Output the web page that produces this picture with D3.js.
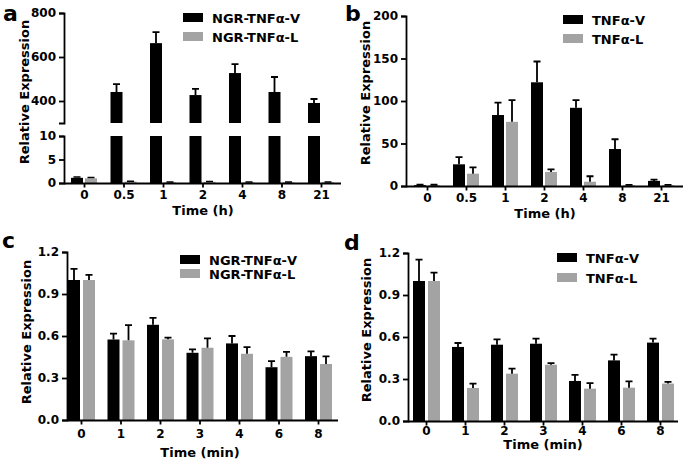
<!DOCTYPE html>
<html>
<head>
<meta charset="utf-8">
<script src="https://cdn.jsdelivr.net/npm/d3@7"></script>
<style>
  body { margin: 0; background: #fff; }
  text { font-family: "DejaVu Sans", sans-serif; font-weight: bold; fill: #000; }
</style>
</head>
<body>
<svg width="685" height="463"></svg>
<script>
// categories
const hours = ["0", "0.5", "1", "2", "4", "8", "21"];
const minutes = ["0", "1", "2", "3", "4", "6", "8"];

// panel a (broken axis), error = upper whisker length
const aV = [1.1, 441, 663, 427, 527, 441, 391];
const aVErr = [0.2, 36, 50, 28, 41, 68, 18];
const aL = [1.0, 0.3, 0.15, 0.25, 0.15, 0.15, 0.15];
const aLErr = [0.15, 0.05, 0.05, 0.05, 0.05, 0.05, 0.05];

// panel b
const bV = [1, 25.5, 83.5, 122, 92, 43.5, 6];
const bVErr = [0.5, 8.5, 14.5, 24.5, 9, 11.5, 1.5];
const bL = [1, 14.5, 75.5, 16.5, 5, 1, 1];
const bLErr = [0.5, 7.5, 25.5, 3, 6.5, 0.3, 0.3];

// panel c
const cV = [1.0, 0.575, 0.68, 0.48, 0.547, 0.377, 0.456];
const cVErr = [0.08, 0.042, 0.05, 0.024, 0.053, 0.043, 0.034];
const cL = [1.0, 0.569, 0.576, 0.516, 0.473, 0.451, 0.40];
const cLErr = [0.037, 0.108, 0.012, 0.067, 0.047, 0.036, 0.054];

// panel d
const dV = [1.0, 0.529, 0.545, 0.552, 0.286, 0.433, 0.56];
const dVErr = [0.152, 0.028, 0.038, 0.036, 0.043, 0.041, 0.028];
const dL = [1.0, 0.236, 0.338, 0.402, 0.231, 0.238, 0.267];
const dLErr = [0.06, 0.031, 0.036, 0.012, 0.04, 0.045, 0.012];

const black = "#000", grey = "#a3a3a3";
const svg = d3.select("svg");

function xAxisPart(g, x, y0, x0, x1, pad, title, tx, ty) {
    g.append("g")
        .attr("transform", "translate(0," + y0 + ")")
        .call(d3.axisBottom(x).tickSize(4).tickPadding(pad).tickSizeOuter(0))
        .call(a => a.select(".domain").remove())
        .call(a => a.selectAll("line").attr("stroke-width", 1.8))
        .call(a => a.selectAll("text").style("font-size", "12px"));
    g.append("line")
        .attr("x1", x0).attr("x2", x1).attr("y1", y0).attr("y2", y0)
        .attr("stroke", "#000").attr("stroke-width", 1.8);
    g.append("text")
        .attr("x", tx).attr("y", ty)
        .attr("text-anchor", "middle")
        .style("font-size", "13px")
        .text(title);
}

function yAxisPart(g, y, xPos, ticks, fmt) {
    g.append("g")
        .attr("transform", "translate(" + xPos + ",0)")
        .call(d3.axisLeft(y).tickValues(ticks).tickFormat(fmt).tickSize(5).tickPadding(3).tickSizeOuter(5))
        .call(a => a.select(".domain").attr("stroke-width", 1.8))
        .call(a => a.selectAll("line").attr("stroke-width", 1.8))
        .call(a => a.selectAll("text").style("font-size", "12px"));
}

function yTitle(g, x, y) {
    g.append("text")
        .attr("transform", "translate(" + x + "," + y + ") rotate(-90)")
        .attr("text-anchor", "middle")
        .style("font-size", "13px")
        .text("Relative Expression");
}

function legend(g, x, y, dy, names) {
    names.forEach((n, i) => {
        g.append("rect")
            .attr("x", x).attr("y", y + i * dy)
            .attr("width", 20).attr("height", 9)
            .attr("fill", i == 0 ? black : grey);
        g.append("text")
            .attr("x", x + 29).attr("y", y + i * dy + 9.5)
            .style("font-size", "13px")
            .text(n);
    });
}

function letter(g, t, x, y) {
    g.append("text").attr("x", x).attr("y", y)
        .style("font-size", "22px")
        .text(t);
}

function whisker(g, cx, yb, yt, w) {
    g.append("path")
        .attr("d", "M" + cx + "," + yb + "V" + yt + "M" + (cx - 3.5) + "," + yt + "H" + (cx + 3.5))
        .attr("stroke", "#000").attr("stroke-width", w).attr("fill", "none");
}

// draws bars + upper whiskers on a simple linear scale
function bars(g, x, y, cats, vals, errs, off, color) {
    let sel = g.append("g");
    sel.selectAll("rect").data(cats)
        .enter().append("rect")
        .attr("x", d => x(d) + off)
        .attr("width", 12)
        .attr("y", (d, i) => y(vals[i]))
        .attr("height", (d, i) => y(0) - y(vals[i]))
        .attr("fill", color);
    cats.forEach((d, i) => whisker(sel, x(d) + off + 6, y(vals[i]), y(vals[i] + errs[i]), 1.8));
}

// ---------- panel a (broken y axis) ----------
{
    let g = svg.append("g");
    let x = d3.scalePoint().domain(hours).range([84, 321]);
    let yLow = d3.scaleLinear().domain([0, 10]).range([183, 136]);
    let yHigh = d3.scaleLinear().domain([300, 800]).range([123, 13]);

    hours.forEach((h, i) => {
        let cx = x(h);
        [[aV, aVErr, -13, black], [aL, aLErr, 1, grey]].forEach(([v, e, off, col]) => {
            let val = v[i];
            if (val <= 10) {
                g.append("rect")
                    .attr("x", cx + off).attr("width", 12)
                    .attr("y", yLow(val)).attr("height", yLow(0) - yLow(val))
                    .attr("fill", col);
                whisker(g, cx + off + 6, yLow(val), yLow(val + e[i]), 1.5);
            } else {
                g.append("rect")
                    .attr("x", cx + off).attr("width", 12)
                    .attr("y", yLow(10)).attr("height", yLow(0) - yLow(10))
                    .attr("fill", col);
                g.append("rect")
                    .attr("x", cx + off).attr("width", 12)
                    .attr("y", yHigh(val)).attr("height", yHigh(300) - yHigh(val))
                    .attr("fill", col);
                whisker(g, cx + off + 6, yHigh(val), yHigh(val + e[i]), 1.8);
            }
        });
    });

    yAxisPart(g, yLow, 64, [0, 5, 10], d3.format("d"));
    yAxisPart(g, yHigh, 64, [400, 600, 800], d3.format("d"));
    xAxisPart(g, x, 183.5, 64, 341, 3, "Time (h)", 203, 215);
    yTitle(g, 29, 92);
    legend(g, 183, 13, 19, ["NGR-TNF\u03b1-V", "NGR-TNF\u03b1-L"]);
    letter(g, "a", 3, 21);
}

// ---------- panel b ----------
{
    let g = svg.append("g");
    let x = d3.scalePoint().domain(hours).range([427, 661]);
    let y = d3.scaleLinear().domain([0, 200]).range([186, 16]);
    bars(g, x, y, hours, bV, bVErr, -13, black);
    bars(g, x, y, hours, bL, bLErr, 1, grey);
    yAxisPart(g, y, 406, [0, 50, 100, 150, 200], d3.format("d"));
    xAxisPart(g, x, 186.5, 406, 683, 3, "Time (h)", 545, 218);
    yTitle(g, 370, 93);
    legend(g, 563, 15, 19, ["TNF\u03b1-V", "TNF\u03b1-L"]);
    letter(g, "b", 345, 21);
}

// ---------- panel c ----------
{
    let g = svg.append("g");
    let x = d3.scalePoint().domain(minutes).range([81, 318]);
    let y = d3.scaleLinear().domain([0, 1.2]).range([420, 252]);
    bars(g, x, y, minutes, cV, cVErr, -13, black);
    bars(g, x, y, minutes, cL, cLErr, 2, grey);
    yAxisPart(g, y, 67, [0, 0.3, 0.6, 0.9, 1.2], d3.format(".1f"));
    xAxisPart(g, x, 420.5, 67, 338, 5, "Time (min)", 200, 457);
    yTitle(g, 31, 332);
    legend(g, 180, 255, 14, ["NGR-TNF\u03b1-V", "NGR-TNF\u03b1-L"]);
    letter(g, "c", 2, 248);
}

// ---------- panel d ----------
{
    let g = svg.append("g");
    let x = d3.scalePoint().domain(minutes).range([426, 660]);
    let y = d3.scaleLinear().domain([0, 1.2]).range([421, 253]);
    bars(g, x, y, minutes, dV, dVErr, -13, black);
    bars(g, x, y, minutes, dL, dLErr, 2, grey);
    yAxisPart(g, y, 408, [0, 0.3, 0.6, 0.9, 1.2], d3.format(".1f"));
    xAxisPart(g, x, 421.5, 408, 678, 1, "Time (min)", 543, 449);
    yTitle(g, 371, 330);
    legend(g, 557, 253, 20, ["TNF\u03b1-V", "TNF\u03b1-L"]);
    letter(g, "d", 344, 250);
}
</script>
</body>
</html>
